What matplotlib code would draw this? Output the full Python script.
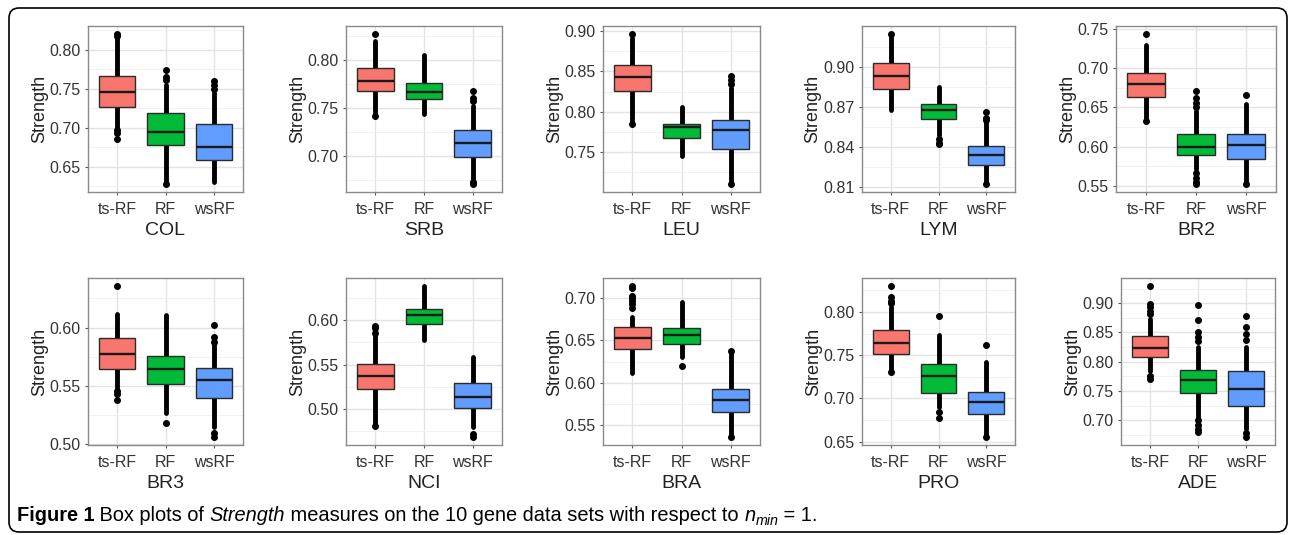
import matplotlib
matplotlib.use("Agg")
import matplotlib.pyplot as plt
from matplotlib.patches import FancyBboxPatch
from matplotlib.transforms import IdentityTransform
from matplotlib.ticker import FixedLocator, FormatStrFormatter

# ---------------- data ----------------
methods = ["ts-RF", "RF", "wsRF"]
datasets = ["COL", "SRB", "LEU", "LYM", "BR2", "BR3", "NCI", "BRA", "PRO", "ADE"]

# box statistics per data set: [q1, median, q3] for ts-RF, RF, wsRF
q1 = {
    "COL": [0.726, 0.678, 0.659], "SRB": [0.768, 0.759, 0.699],
    "LEU": [0.826, 0.768, 0.754], "LYM": [0.8836, 0.861, 0.8267],
    "BR2": [0.6636, 0.5898, 0.585], "BR3": [0.5648, 0.5519, 0.540],
    "NCI": [0.5226, 0.5955, 0.5008], "BRA": [0.640, 0.646, 0.5647],
    "PRO": [0.7511, 0.7065, 0.6824], "ADE": [0.8082, 0.746, 0.7244],
}
median = {
    "COL": [0.746, 0.695, 0.6754], "SRB": [0.7788, 0.7663, 0.7139],
    "LEU": [0.8427, 0.7817, 0.778], "LYM": [0.8934, 0.8676, 0.834],
    "BR2": [0.680, 0.5995, 0.6024], "BR3": [0.577, 0.5648, 0.555],
    "NCI": [0.5374, 0.606, 0.5132], "BRA": [0.6528, 0.6563, 0.579],
    "PRO": [0.7637, 0.7263, 0.6958], "ADE": [0.8241, 0.7686, 0.7533],
}
q3 = {
    "COL": [0.767, 0.7195, 0.705], "SRB": [0.7924, 0.7764, 0.7274],
    "LEU": [0.8585, 0.785, 0.7894], "LYM": [0.9027, 0.8725, 0.8406],
    "BR2": [0.6934, 0.6162, 0.616], "BR3": [0.5911, 0.5755, 0.5657],
    "NCI": [0.5509, 0.6125, 0.5294], "BRA": [0.6659, 0.6643, 0.5925],
    "PRO": [0.7786, 0.7397, 0.7076], "ADE": [0.8439, 0.7867, 0.7838],
}
# extent of the dense run of raw points (looks like a solid strip)
strip_lo = {
    "COL": [0.700, 0.632, 0.630], "SRB": [0.745, 0.744, 0.676],
    "LEU": [0.788, 0.745, 0.711], "LYM": [0.868, 0.849, 0.813],
    "BR2": [0.635, 0.572, 0.556], "BR3": [0.548, 0.527, 0.515],
    "NCI": [0.483, 0.578, 0.480], "BRA": [0.611, 0.630, 0.536],
    "PRO": [0.732, 0.690, 0.656], "ADE": [0.785, 0.705, 0.685],
}
strip_hi = {
    "COL": [0.815, 0.755, 0.745], "SRB": [0.820, 0.806, 0.752],
    "LEU": [0.892, 0.806, 0.830], "LYM": [0.922, 0.885, 0.858],
    "BR2": [0.730, 0.645, 0.654], "BR3": [0.612, 0.611, 0.587],
    "NCI": [0.583, 0.639, 0.559], "BRA": [0.678, 0.695, 0.636],
    "PRO": [0.806, 0.773, 0.742], "ADE": [0.873, 0.825, 0.825],
}
# isolated points outside the dense run
sparse_points = {
    "COL": [[0.821, 0.818, 0.697, 0.693, 0.686], [0.774, 0.765, 0.761, 0.627], [0.760, 0.755, 0.750]],
    "SRB": [[0.828, 0.742], [], [0.768, 0.760, 0.757, 0.673, 0.670]],
    "LEU": [[0.897, 0.785], [], [0.844, 0.840, 0.835, 0.710]],
    "LYM": [[0.9248], [0.846, 0.843, 0.842], [0.866, 0.862, 0.860, 0.812]],
    "BR2": [[0.744, 0.633], [0.671, 0.662, 0.656, 0.650, 0.566, 0.560, 0.555, 0.552], [0.666, 0.553]],
    "BR3": [[0.636, 0.546, 0.543, 0.538], [0.518], [0.602, 0.592, 0.588, 0.510, 0.506]],
    "NCI": [[0.594, 0.591, 0.586, 0.481], [], [0.472, 0.468]],
    "BRA": [[0.715, 0.712, 0.703, 0.700, 0.697, 0.693, 0.688], [0.620], [0.637, 0.535]],
    "PRO": [[0.8305, 0.817, 0.813, 0.810, 0.731], [0.795, 0.684, 0.677], [0.762, 0.655]],
    "ADE": [[0.930, 0.899, 0.893, 0.887, 0.882, 0.776, 0.770], [0.897, 0.872, 0.851, 0.842, 0.835, 0.700, 0.693, 0.685, 0.681], [0.878, 0.860, 0.847, 0.838, 0.678, 0.671]],
}
y_ticks = {
    "COL": [0.65, 0.70, 0.75, 0.80], "SRB": [0.70, 0.75, 0.80],
    "LEU": [0.75, 0.80, 0.85, 0.90], "LYM": [0.81, 0.84, 0.87, 0.90],
    "BR2": [0.55, 0.60, 0.65, 0.70, 0.75], "BR3": [0.50, 0.55, 0.60],
    "NCI": [0.50, 0.55, 0.60], "BRA": [0.55, 0.60, 0.65, 0.70],
    "PRO": [0.65, 0.70, 0.75, 0.80], "ADE": [0.70, 0.75, 0.80, 0.85, 0.90],
}
y_label = "Strength"
caption_parts = [
    ("Figure 1", "bold", "normal", 0),
    (" Box plots of ", "normal", "normal", 0),
    ("Strength", "normal", "italic", 0),
    (" measures on the 10 gene data sets with respect to ", "normal", "normal", 0),
    ("n", "normal", "italic", 0),
    ("min", "normal", "italic", -1),
    (" = 1.", "normal", "normal", 0),
]

# ---------------- style ----------------
colors = ["#F8766D", "#00BA38", "#619CFF"]
W, H = 1295, 535
DPI = 100
plt.rcParams["font.family"] = ["Liberation Sans", "DejaVu Sans"]

fig = plt.figure(figsize=(W / DPI, H / DPI), dpi=DPI)

# axes rectangles in pixels: (left, top, right, bottom)
rects = [
    (88, 26, 243, 192), (346, 26, 502, 192), (603, 26, 760, 192),
    (862, 26, 1015, 192), (1116, 26, 1276, 192),
    (88, 278, 243, 445), (346, 278, 502, 445), (603, 278, 760, 445),
    (862, 278, 1015, 445), (1121, 278, 1275, 445),
]

for name, (x0, y0, x1, y1) in zip(datasets, rects):
    ax = fig.add_axes([x0 / W, 1 - y1 / H, (x1 - x0) / W, (y1 - y0) / H])
    stats = []
    for i in range(3):
        stats.append(dict(
            med=median[name][i], q1=q1[name][i], q3=q3[name][i],
            whislo=strip_lo[name][i], whishi=strip_hi[name][i],
            fliers=sparse_points[name][i], label=methods[i]))
    res = ax.bxp(stats, positions=[1, 2, 3], widths=0.75, patch_artist=True,
                 showcaps=False,
                 whiskerprops=dict(color="black", linewidth=3.5, solid_capstyle="round"),
                 flierprops=dict(marker="o", markersize=4.0, markerfacecolor="black",
                                 markeredgecolor="black", linestyle="none"),
                 medianprops=dict(color="#1a1a1a", linewidth=1.7),
                 boxprops=dict(edgecolor="#2b2b2b", linewidth=1.0))
    for patch, c in zip(res["boxes"], colors):
        patch.set_facecolor(c)
        patch.set_zorder(3)
    for m in res["medians"]:
        m.set_zorder(4)
    for w_ in res["whiskers"]:
        w_.set_zorder(2)
    for f in res["fliers"]:
        f.set_zorder(2)

    ax.set_xlim(0.4, 3.6)
    ticks = y_ticks[name]
    ax.yaxis.set_major_locator(FixedLocator(ticks))
    step = ticks[1] - ticks[0]
    minors = [t + step / 2 for t in [ticks[0] - step] + ticks]
    ax.yaxis.set_minor_locator(FixedLocator(minors))
    ax.yaxis.set_major_formatter(FormatStrFormatter("%.2f"))
    ax.set_xticks([1, 2, 3])
    ax.set_xticklabels(methods)
    ax.set_axisbelow(True)
    ax.grid(True, which="major", color="#E3E3E3", linewidth=1.0)
    ax.grid(True, which="minor", axis="y", color="#EFEFEF", linewidth=0.6)
    ax.tick_params(which="minor", length=0)
    ax.tick_params(which="major", length=2.5, width=0.8, color="#555555",
                   labelsize=11.5, labelcolor="#333333")
    ax.tick_params(axis="y", pad=3)
    ax.tick_params(axis="x", pad=4.5)
    for s in ax.spines.values():
        s.set_color("#8a8a8a")
        s.set_linewidth(1.0)
    ax.set_ylabel(y_label, fontsize=13, color="#222222", labelpad=1)
    ax.set_xlabel(name, fontsize=14, color="#222222", labelpad=3.5)

# outer rounded border
border = FancyBboxPatch((9, 3), 1278, 524, boxstyle="round,pad=0,rounding_size=10",
                        transform=IdentityTransform(), facecolor="none",
                        edgecolor="black", linewidth=1.2)
fig.patches.append(border)

# caption, assembled piece by piece
renderer = fig.canvas.get_renderer()
x = 17
base_y = H - 521
cap_family = ["Liberation Sans", "DejaVu Sans"]
for txt, weight, style, sub in caption_parts:
    size = 14.4 if sub == 0 else 10.3
    t = fig.text(x / W, (base_y + (-4 if sub else 0)) / H, txt, fontsize=size,
                 fontweight=weight, fontstyle=style, family=cap_family,
                 ha="left", va="baseline", color="black")
    bb = t.get_window_extent(renderer)
    x = bb.x1

fig.savefig("out.png", dpi=DPI)
